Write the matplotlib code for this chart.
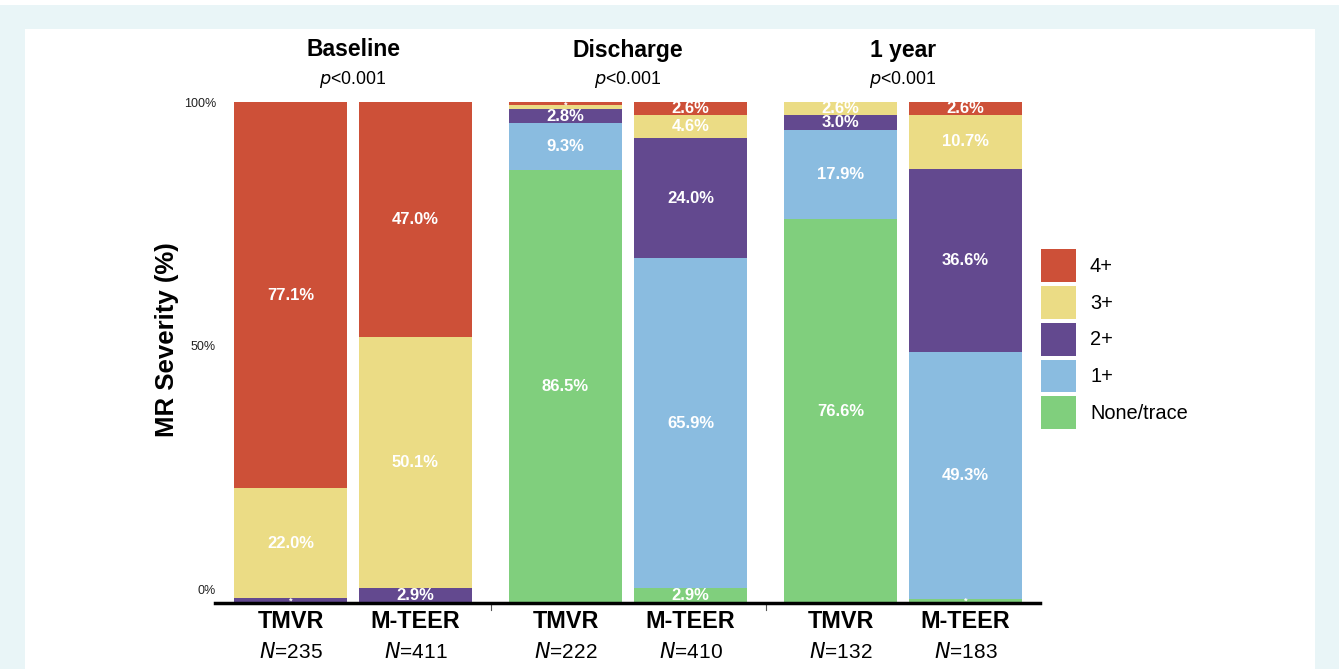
import matplotlib
matplotlib.use("Agg")
import matplotlib.pyplot as plt
import matplotlib.transforms as mtransforms
from matplotlib.patches import Patch, Rectangle
import numpy as np

plt.rcParams['font.family'] = ['Liberation Sans', 'DejaVu Sans']

# Daten
groups = ["Baseline", "Discharge", "1 year"]
pvals = ["<0.001", "<0.001", "<0.001"]
devices = ["TMVR", "M-TEER"]
n_counts = [235, 411, 222, 410, 132, 183]
severity = ["None/trace", "1+", "2+", "3+", "4+"]
colors = ["#80CF7D", "#8ABCE0", "#63498F", "#EBDC85", "#CD5038"]

# percentuais por barra (TMVR/M-TEER para cada periodo), ordem: None, 1+, 2+, 3+, 4+
none_trace = [0.0, 0.0, 86.5, 2.9, 76.6, 0.8]
one_plus = [0.0, 0.0, 9.3, 65.9, 17.9, 49.3]
two_plus = [0.9, 2.9, 2.8, 24.0, 3.0, 36.6]
three_plus = [22.0, 50.1, 0.9, 4.6, 2.6, 10.7]
four_plus = [77.1, 47.0, 0.5, 2.6, 0.0, 2.6]
series = [none_trace, one_plus, two_plus, three_plus, four_plus]

W, H = 1339, 669
fig = plt.figure(figsize=(W / 100, H / 100), dpi=100)
fig.patch.set_facecolor("#E9F5F7")
fig.patches.append(Rectangle((25 / W, 0), (1315 - 25) / W, (669 - 29) / H,
                             transform=fig.transFigure, facecolor="white", edgecolor="none", zorder=-5))
fig.patches.append(Rectangle((0, 1 - 5 / H), 1, 5 / H,
                             transform=fig.transFigure, facecolor="white", edgecolor="none", zorder=-5))

ax = fig.add_axes([215 / W, (H - 603) / H, (1040 - 215) / W, (603 - 102) / H])
ax.set_facecolor("none")

gap = 2.2
xpos = []
for g in range(len(groups)):
    for b in range(len(devices)):
        xpos.append(g * gap + b)
xpos = np.array(xpos)

bottom = np.zeros(len(xpos))
# segmentos pequenos (<2.5%) viram um asterisco; segmentos vizinhos pequenos compartilham um so
small = [[] for _ in xpos]
for vals, col in zip(series, colors):
    vals = np.array(vals)
    ax.bar(xpos, vals, width=0.904, bottom=bottom, color=col, edgecolor="none", zorder=2)
    for i, (x, v, b0) in enumerate(zip(xpos, vals, bottom)):
        if v <= 0:
            continue
        if v >= 2.5:
            ax.text(x, b0 + v / 2, f"{v:.1f}%", ha="center", va="center",
                    color="white", fontsize=12, fontweight="bold", zorder=3)
        else:
            if small[i] and abs(small[i][-1][1] - b0) < 1e-9:
                small[i][-1][1] = b0 + v
            else:
                small[i].append([b0, b0 + v])
    bottom = bottom + vals

for x, spans in zip(xpos, small):
    for lo, hi in spans:
        ax.text(x, (lo + hi) / 2, "*", ha="center", va="center",
                color="white", fontsize=6.5, fontweight="bold", zorder=3)

ax.set_xlim(-0.604, 5.996)
ax.set_ylim(0, 100)
ax.axhline(0, color="black", lw=2.5, zorder=4, clip_on=False)
for g in range(1, len(groups)):
    sx = g * gap - (gap - 1) / 2
    ax.plot([sx, sx], [0, -1.3], color="#555555", lw=0.8, clip_on=False)

for s in ax.spines.values():
    s.set_visible(False)
ax.set_xticks([])
ax.set_yticks([])

# rotulos do eixo y
for val, yoff in [(100, -0.4), (50, 1.0), (0, 2.4)]:
    ax.text(-0.596, val + yoff, f"{val}%", ha="right", va="center", fontsize=9, color="#222222")

fig.text(167 / W, 1 - 340 / H, "MR Severity (%)", rotation=90, ha="center", va="center",
         fontsize=18.5, fontweight="bold")

trans = mtransforms.blended_transform_factory(ax.transData, fig.transFigure)
for g, name in enumerate(groups):
    cx = g * gap + 0.5
    ax.text(cx, 1 - 50 / H, name, transform=trans, ha="center", va="center",
            fontsize=16.5, fontweight="bold")
    ax.text(cx, 1 - 80 / H, r"$\it{p}$" + pvals[g], transform=trans, ha="center", va="center",
            fontsize=12.8)

for i, x in enumerate(xpos):
    ax.text(x, 1 - 622 / H, devices[i % 2], transform=trans, ha="center", va="center",
            fontsize=16.8, fontweight="bold")
    ax.text(x, 1 - 652 / H, r"$\it{N}$" + f"={n_counts[i]}", transform=trans, ha="center",
            va="center", fontsize=15)

handles = [Patch(facecolor=c, edgecolor="none") for c in colors[::-1]]
fig.legend(handles, severity[::-1], loc="upper left", bbox_to_anchor=(1041 / W, 1 - 249 / H),
           frameon=False, fontsize=14.4, handlelength=1.75, handleheight=2.15,
           labelspacing=0.2, handletextpad=0.7, borderpad=0, borderaxespad=0)

fig.savefig("out.png", dpi=100, facecolor=fig.get_facecolor())
